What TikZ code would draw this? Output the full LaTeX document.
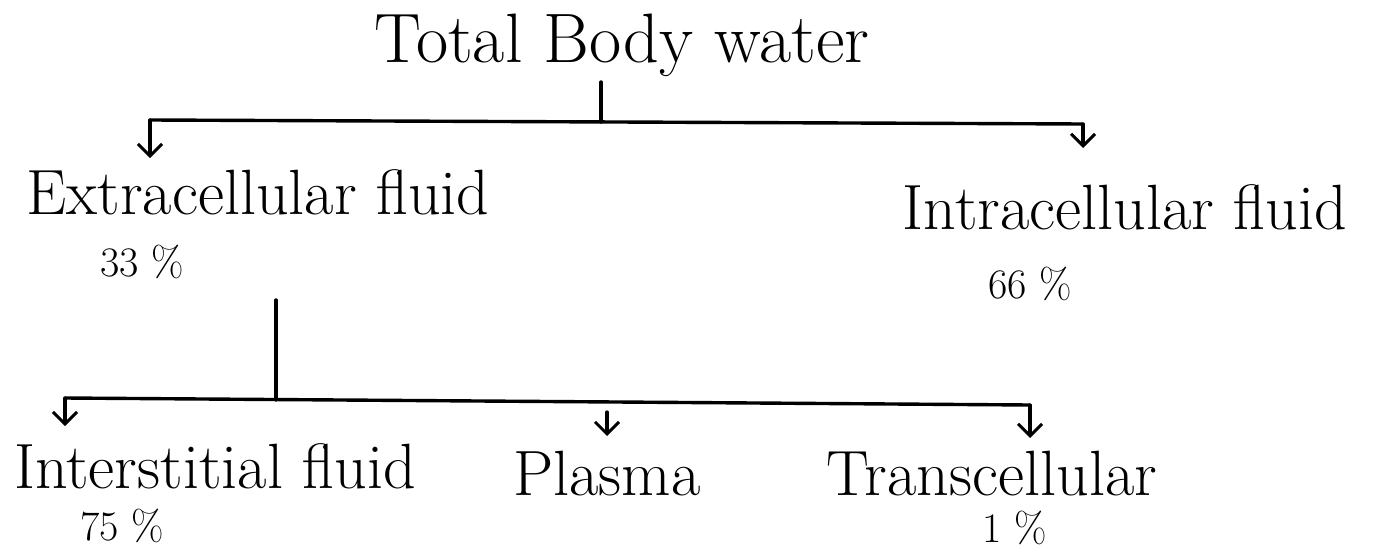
\documentclass[tikz,border=0pt]{standalone}
\usetikzlibrary{arrows.meta}
\begin{document}
\begin{tikzpicture}[x=1pt,y=-1pt,
  line/.style={line width=3.4pt,line cap=round},
  arr/.style={line width=3.2pt,line cap=round,-{Straight Barb[length=12pt,width=24pt,line width=3pt]}},
  lbl/.style={inner sep=0pt,font=\fontsize{64}{70}\selectfont},
  pct/.style={inner sep=0pt,font=\fontsize{42}{48}\selectfont}]
\useasboundingbox (0,0) rectangle (1376,554);
% texts
\node[lbl,font=\fontsize{70}{76}\selectfont] (tbw) at (622,45) {Total Body water};
\node[lbl] (ecf) at (258,192) {Extracellular fluid};
\node[pct] (ecfp) at (142,262) {33 \%};
\node[lbl] (icf) at (1125,207) {Intracellular fluid};
\node[pct] (icfp) at (1030,284) {66 \%};
\node[lbl] (isf) at (215,466) {Interstitial fluid};
\node[pct] (isfp) at (122,526) {75 \%};
\node[lbl] (pl) at (607,474) {Plasma};
\node[lbl] (tc) at (992,474) {Transcellular};
\node[pct] (tcp) at (1015,528) {1 \%};
% first level
\coordinate (b0) at (601,82);
\coordinate (b1) at (601,122);
\coordinate (bl) at (150,120);
\coordinate (br) at (1083,124);
\coordinate (al) at (150,158);
\coordinate (ar) at (1083,148);
\draw[line] (b0) -- (b1);
\draw[line] (bl) -- (br);
\draw[arr] (bl) -- (al);
\draw[arr] (br) -- (ar);
% second level
\coordinate (c0) at (276,300);
\coordinate (c1) at (276,400);
\coordinate (cl) at (65,398);
\coordinate (cr) at (1030,405);
\coordinate (cm) at (607,412);
\coordinate (dl) at (65,426);
\coordinate (dm) at (607,436);
\coordinate (dr) at (1030,438);
\draw[line] (c0) -- (c1);
\draw[line] (cl) -- (cr);
\draw[arr] (cl) -- (dl);
\draw[arr] (cm) -- (dm);
\draw[arr] (cr) -- (dr);
\end{tikzpicture}
\end{document}
